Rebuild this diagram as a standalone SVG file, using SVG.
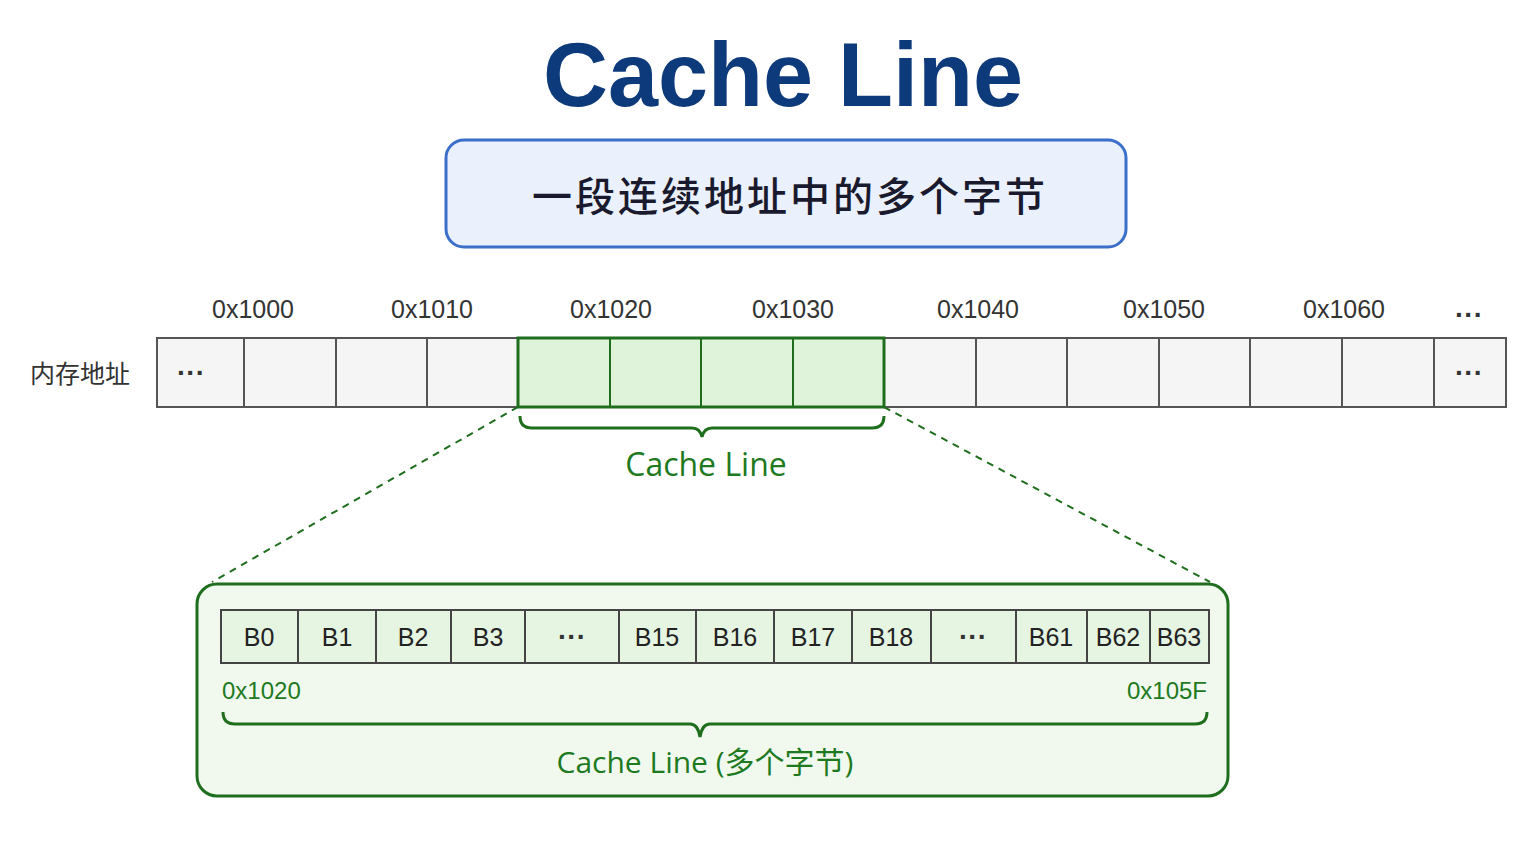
<svg xmlns="http://www.w3.org/2000/svg" width="1536" height="864" viewBox="0 0 1536 864">
<style>
.cell{fill:#f5f5f5;stroke:#555;stroke-width:2}
.g{fill:#dff3da;stroke:#1e6e1e;stroke-width:3}
.b{fill:#e6f4e2;stroke:#444;stroke-width:2}
.addr{font-family:"Liberation Sans","DejaVu Sans",sans-serif;font-size:25px;fill:#333;text-anchor:middle}
.dots{font-family:"Liberation Sans",sans-serif;font-size:28px;font-weight:bold;fill:#333;text-anchor:middle}
.bt{font-family:"Liberation Sans","DejaVu Sans",sans-serif;font-size:25px;fill:#222;text-anchor:middle}
.gt{font-family:"Open Sans","Noto Sans CJK SC",sans-serif;fill:#1e7a1e;text-anchor:middle}
.brace{fill:none;stroke:#1e6e1e;stroke-width:3}
</style>
<rect width="1536" height="864" fill="#fff"/>
<g id="title"><text x="783" y="106" font-family="Liberation Sans,Arial,sans-serif" font-weight="bold" font-size="90" fill="#0d3a7a" text-anchor="middle">Cache Line</text></g>
<g id="subtitle"><rect x="446" y="140" width="680" height="107" rx="18" fill="#eaf1fc" stroke="#3b6fc9" stroke-width="3"/>
<text x="790" y="211" font-family="Noto Sans CJK SC,sans-serif" font-weight="500" font-size="40" letter-spacing="3" fill="#1a1a2e" text-anchor="middle">一段连续地址中的多个字节</text></g>
<g id="memory">
<text x="80" y="383" font-family="Noto Sans CJK SC,sans-serif" font-size="25" fill="#333" text-anchor="middle">内存地址</text>
<rect class="cell" x="157" y="338" width="1349" height="69"/>
<g stroke="#555" stroke-width="2">
<line x1="244" y1="338" x2="244" y2="407"/><line x1="336" y1="338" x2="336" y2="407"/><line x1="427" y1="338" x2="427" y2="407"/>
<line x1="976" y1="338" x2="976" y2="407"/><line x1="1067" y1="338" x2="1067" y2="407"/><line x1="1159" y1="338" x2="1159" y2="407"/>
<line x1="1250" y1="338" x2="1250" y2="407"/><line x1="1342" y1="338" x2="1342" y2="407"/><line x1="1434" y1="338" x2="1434" y2="407"/>
</g>
<rect class="g" x="518" y="338" width="366" height="69"/>
<g stroke="#1e6e1e" stroke-width="2"><line x1="610" y1="338" x2="610" y2="407"/><line x1="701" y1="338" x2="701" y2="407"/><line x1="793" y1="338" x2="793" y2="407"/></g>
<text class="dots" x="191" y="382">···</text><text class="dots" x="1469" y="382">···</text>
<text class="addr" x="253" y="318">0x1000</text><text class="addr" x="432" y="318">0x1010</text><text class="addr" x="611" y="318">0x1020</text><text class="addr" x="793" y="318">0x1030</text><text class="addr" x="978" y="318">0x1040</text><text class="addr" x="1164" y="318">0x1050</text><text class="addr" x="1344" y="318">0x1060</text><text class="dots" x="1469" y="324">···</text>
<path class="brace" d="M520 416 Q520 428 532 428 L692 428 Q700 428 702 437 Q704 428 712 428 L872 428 Q884 428 884 416"/>
<text class="gt" x="706" y="476" font-size="32">Cache Line</text>
</g>
<g id="connectors" stroke="#1e6e1e" stroke-width="2" stroke-dasharray="7,6" fill="none">
<line x1="518" y1="407" x2="212" y2="582"/><line x1="884" y1="407" x2="1210" y2="582"/>
</g>
<g id="detail">
<rect x="197" y="584" width="1031" height="212" rx="20" fill="#f1f9ef" stroke="#1e6e1e" stroke-width="3"/>
<rect class="b" x="221" y="610" width="988" height="53"/>
<g stroke="#444" stroke-width="2">
<line x1="298" y1="610" x2="298" y2="663"/><line x1="376" y1="610" x2="376" y2="663"/><line x1="451" y1="610" x2="451" y2="663"/><line x1="525" y1="610" x2="525" y2="663"/><line x1="619" y1="610" x2="619" y2="663"/><line x1="696" y1="610" x2="696" y2="663"/><line x1="774" y1="610" x2="774" y2="663"/><line x1="852" y1="610" x2="852" y2="663"/><line x1="931" y1="610" x2="931" y2="663"/><line x1="1016" y1="610" x2="1016" y2="663"/><line x1="1087" y1="610" x2="1087" y2="663"/><line x1="1150" y1="610" x2="1150" y2="663"/>
</g>
<g class="bt">
<text x="259" y="646">B0</text><text x="337" y="646">B1</text><text x="413" y="646">B2</text><text x="488" y="646">B3</text><text class="dots" x="572" y="646">···</text><text x="657" y="646">B15</text><text x="735" y="646">B16</text><text x="813" y="646">B17</text><text x="891" y="646">B18</text><text class="dots" x="973" y="646">···</text><text x="1051" y="646">B61</text><text x="1118" y="646">B62</text><text x="1179" y="646">B63</text>
</g>
<text x="222" y="699" font-family="Liberation Sans,sans-serif" font-size="24" fill="#1e7a1e">0x1020</text>
<text x="1207" y="699" font-family="Liberation Sans,sans-serif" font-size="24" fill="#1e7a1e" text-anchor="end">0x105F</text>
<path class="brace" d="M223 712 Q223 724 235 724 L690 724 Q698 724 700 737 Q702 724 710 724 L1195 724 Q1207 724 1207 712"/>
<text class="gt" x="705" y="773" font-size="30">Cache Line (多个字节)</text>
</g>
</svg>
